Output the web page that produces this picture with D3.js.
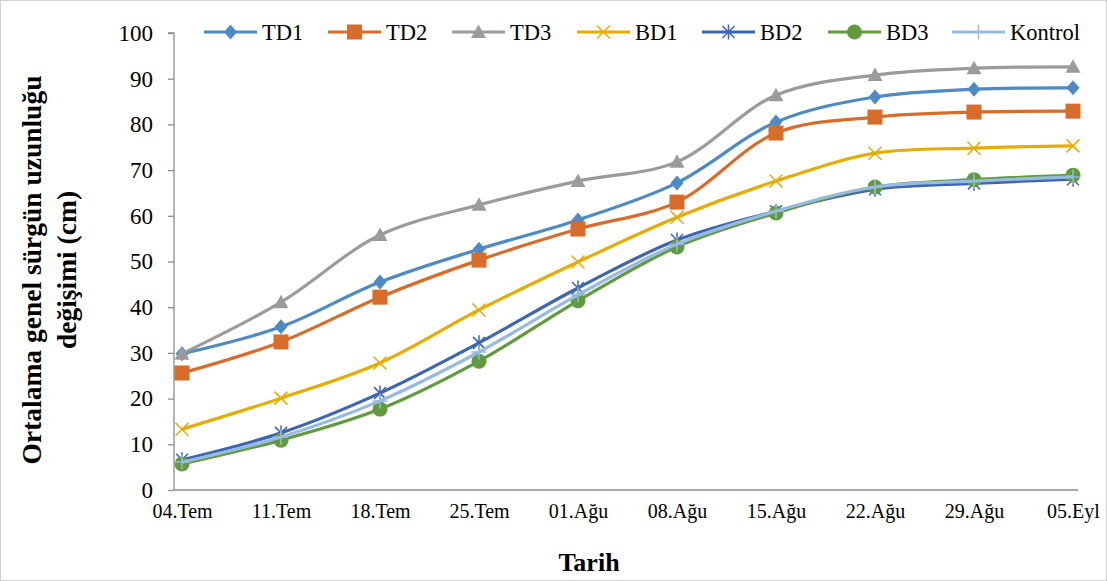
<!DOCTYPE html>
<html>
<head>
<meta charset="utf-8">
<script src="https://cdn.jsdelivr.net/npm/d3@7"></script>
<style>
  body { margin: 0; background: #fff; }
  svg text { font-family: "Liberation Serif", "Times New Roman", serif; }
</style>
</head>
<body>
<div id="chart"></div>
<script>
var svgWidth = 1107;
var svgHeight = 581;

// data
var dates = ["04.Tem", "11.Tem", "18.Tem", "25.Tem", "01.Ağu", "08.Ağu", "15.Ağu", "22.Ağu", "29.Ağu", "05.Eyl"];
var seriesNames = ["TD1", "TD2", "TD3", "BD1", "BD2", "BD3", "Kontrol"];
var td1 = [29.8, 35.7, 45.5, 52.7, 59.1, 67.2, 80.5, 86.0, 87.7, 88.0];
var td2 = [25.6, 32.4, 42.2, 50.3, 57.1, 63.0, 78.1, 81.6, 82.7, 82.9];
var td3 = [29.8, 41.1, 55.8, 62.4, 67.6, 71.8, 86.4, 90.8, 92.3, 92.6];
var bd1 = [13.3, 20.1, 27.8, 39.4, 49.9, 59.7, 67.6, 73.7, 74.8, 75.3];
var bd2 = [6.6, 12.5, 21.2, 32.2, 44.2, 54.7, 61.0, 65.8, 67.1, 68.0];
var bd3 = [5.7, 10.9, 17.7, 28.2, 41.4, 53.2, 60.6, 66.3, 67.9, 68.9];
var kontrol = [6.1, 11.6, 19.5, 30.2, 42.7, 53.8, 61.0, 66.3, 67.6, 68.5];
var yTicks = [0, 10, 20, 30, 40, 50, 60, 70, 80, 90, 100];

var colors = ["#4e8ac3", "#d86c2a", "#9b9b9b", "#e6ad00", "#3d65b1", "#629b3e", "#97bbe0"];
var symbols = ["diamond", "square", "triangle", "x", "asterisk", "circle", "plus"];
var allValues = [td1, td2, td3, bd1, bd2, bd3, kontrol];

var series = seriesNames.map(function(n, i) {
  return { name: n, values: allValues[i], color: colors[i], symbol: symbols[i] };
});

var plot = { left: 174, right: 1078, top: 33, bottom: 490 };
var serif = "Liberation Serif, Times New Roman, serif";

var svg = d3.select("#chart")
  .append("svg")
  .attr("width", svgWidth)
  .attr("height", svgHeight);

svg.append("rect")
  .attr("x", 0.5).attr("y", 0.5)
  .attr("width", svgWidth - 1).attr("height", svgHeight - 1)
  .attr("fill", "#fff")
  .attr("stroke", "#d0d0d0");

var x = d3.scalePoint()
  .domain(dates)
  .range([182, 1073]);

var y = d3.scaleLinear()
  .domain([0, 100])
  .range([plot.bottom, plot.top]);

// y axis
var yAxis = svg.append("g")
  .attr("transform", `translate(${plot.left},0)`)
  .call(d3.axisLeft(y).tickValues(yTicks).tickSize(6).tickPadding(15));
yAxis.attr("font-family", serif);
yAxis.select(".domain").attr("stroke", "#8c8c8c").attr("stroke-width", 1.3).attr("d", `M-6,${plot.top}H0V${plot.bottom}`);
yAxis.selectAll(".tick line").attr("stroke", "#8c8c8c").attr("stroke-width", 1.3);
yAxis.selectAll(".tick text")
  .attr("fill", "#000")
  .attr("font-family", serif)
  .style("font-size", "23px");

// x axis
var xAxis = svg.append("g")
  .attr("transform", `translate(0,${plot.bottom})`)
  .call(d3.axisBottom(x).tickSize(0).tickPadding(14));
xAxis.attr("font-family", serif);
xAxis.select(".domain").attr("stroke", "#8c8c8c").attr("stroke-width", 1.3).attr("d", `M${plot.left},0H${plot.right}`);
xAxis.selectAll(".tick text")
  .attr("fill", "#000")
  .attr("font-family", serif)
  .style("font-size", "20px");

// axis titles
svg.append("text")
  .attr("x", 589)
  .attr("y", 571)
  .attr("text-anchor", "middle")
  .attr("font-family", serif)
  .style("font-size", "26px")
  .style("font-weight", "bold")
  .text("Tarih");

var yTitle = svg.append("text")
  .attr("transform", "translate(41,270) rotate(-90)")
  .attr("text-anchor", "middle")
  .attr("font-family", serif)
  .style("font-size", "27.5px")
  .style("font-weight", "bold");
yTitle.append("tspan").attr("x", 0).attr("dy", 0).text("Ortalama genel sürgün uzunluğu");
yTitle.append("tspan").attr("x", 0).attr("dy", 35).text("değişimi (cm)");

function drawMarker(g, sym, color, cx, cy) {
  if (sym === "diamond") {
    g.append("path").attr("d", `M${cx},${cy - 7.5}L${cx + 6.5},${cy}L${cx},${cy + 7.5}L${cx - 6.5},${cy}Z`).attr("fill", color);
  } else if (sym === "square") {
    g.append("rect").attr("x", cx - 7.5).attr("y", cy - 7.5).attr("width", 15).attr("height", 15).attr("fill", color);
  } else if (sym === "triangle") {
    g.append("path").attr("d", `M${cx},${cy - 7.5}L${cx + 7.5},${cy + 6}L${cx - 7.5},${cy + 6}Z`).attr("fill", color);
  } else if (sym === "circle") {
    g.append("circle").attr("cx", cx).attr("cy", cy).attr("r", 7.5).attr("fill", color);
  } else if (sym === "x") {
    g.append("path").attr("d", `M${cx - 6.5},${cy - 6.5}L${cx + 6.5},${cy + 6.5}M${cx - 6.5},${cy + 6.5}L${cx + 6.5},${cy - 6.5}`)
      .attr("stroke", color).attr("stroke-width", 1.5);
  } else if (sym === "asterisk") {
    g.append("path").attr("d", `M${cx - 6},${cy - 6}L${cx + 6},${cy + 6}M${cx - 6},${cy + 6}L${cx + 6},${cy - 6}M${cx},${cy - 7.5}V${cy + 7.5}`)
      .attr("stroke", color).attr("stroke-width", 1.5);
  } else if (sym === "plus") {
    g.append("path").attr("d", `M${cx - 7.5},${cy}H${cx + 7.5}M${cx},${cy - 7.5}V${cy + 7.5}`)
      .attr("stroke", color).attr("stroke-width", 1.5);
  }
}

var line = d3.line()
  .x(function(d, i) { return x(dates[i]); })
  .y(function(d) { return y(d); })
  .curve(d3.curveCatmullRom.alpha(0.5));

series.forEach(function(s) {
  var g = svg.append("g");
  g.append("path")
    .attr("d", line(s.values))
    .attr("fill", "none")
    .attr("stroke", s.color)
    .attr("stroke-width", 3.2)
    .attr("stroke-linejoin", "round");
  s.values.forEach(function(v, i) {
    drawMarker(g, s.symbol, s.color, x(dates[i]), y(v));
  });
});

// legend
var legendX = [204, 328, 452, 577, 702, 828, 952];
var legend = svg.append("g");
series.forEach(function(s, i) {
  var lg = legend.append("g").attr("transform", `translate(${legendX[i]},32)`);
  lg.append("line").attr("x1", 0).attr("x2", 53).attr("y1", 0).attr("y2", 0)
    .attr("stroke", s.color).attr("stroke-width", 3.2);
  drawMarker(lg, s.symbol, s.color, 26.5, 0);
  lg.append("text")
    .attr("x", 58)
    .attr("y", 7.5)
    .attr("font-family", serif)
    .style("font-size", "22.5px")
    .text(s.name);
});
</script>
</body>
</html>
